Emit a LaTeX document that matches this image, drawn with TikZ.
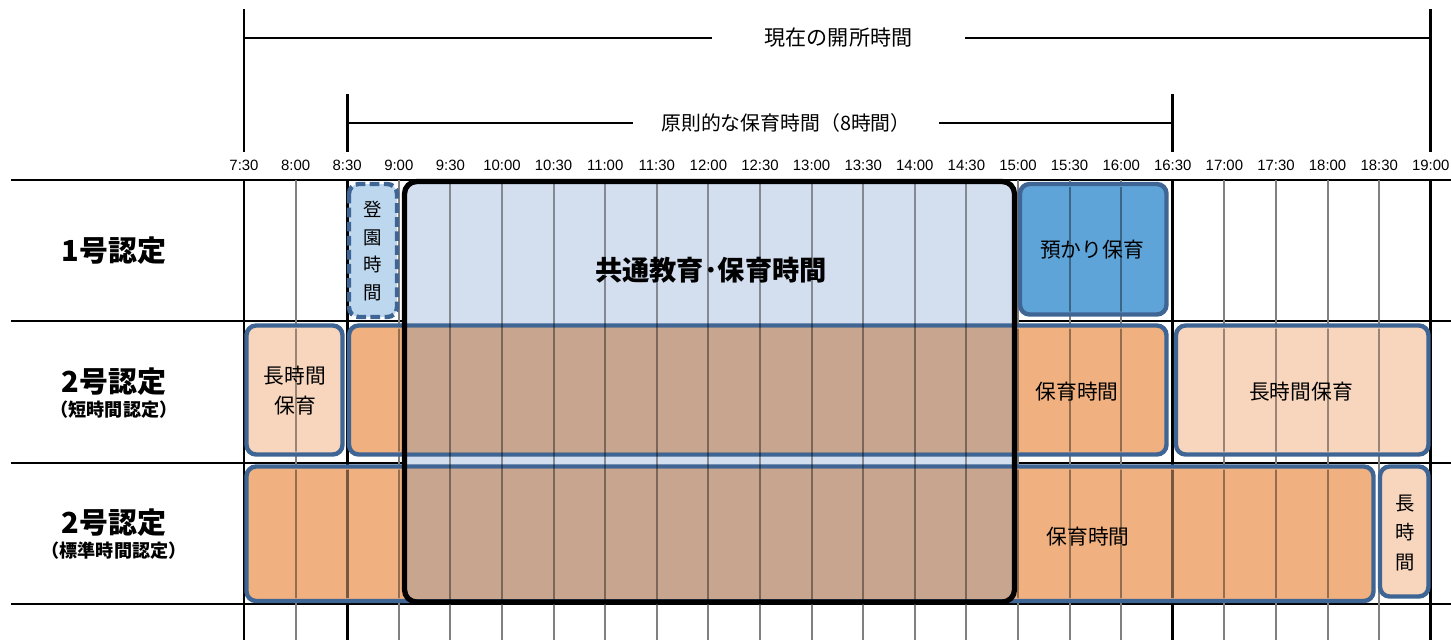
\documentclass[tikz,border=0pt]{standalone}
\usepackage{fontspec}
\setmainfont{Noto Sans CJK JP}
\newfontfamily\timefont{Liberation Sans}
\definecolor{boxline}{HTML}{3F6594}
\definecolor{commonfill}{HTML}{D3DEEE}
\definecolor{entryfill}{HTML}{BDD7EE}
\definecolor{azukarifill}{HTML}{5FA4D8}
\definecolor{hoikufill}{HTML}{F0B07F}
\definecolor{longfill}{HTML}{F7D6BD}
\definecolor{overlapfill}{HTML}{C7A58F}
\tikzset{
  rowline/.style={line width=1.2pt},
  slotline/.style={draw=black!50,line width=1.1pt},
  mainline/.style={line width=1.6pt},
  bracket/.style={line width=1.3pt},
  shade/.style={draw=black,draw opacity=0.38,line width=1.1pt},
  box/.style={draw=boxline,line width=2.5pt,rounded corners=5.5pt},
  timelab/.style={font=\timefont\fontsize{8.5}{10}\selectfont,inner sep=0pt},
  toplab/.style={font=\fontsize{12}{14}\selectfont,inner ysep=0pt},
  rowlab/.style={font=\bfseries\fontsize{16.5}{20}\selectfont},
  sublab/.style={font=\bfseries\fontsize{10.3}{12}\selectfont},
  boxlab/.style={font=\fontsize{11.8}{17}\selectfont,align=center},
  stacklab/.style={font=\fontsize{10.5}{15.6}\selectfont,align=center},
}

\begin{document}
\begin{tikzpicture}[x=0.02cm,y=-0.02cm]
  \useasboundingbox (0,0) rectangle (1451,640);
  \foreach \y in {180,321,463,604}
    \draw[rowline] (11,\y) -- (1451,\y);
  \foreach \i in {1,3,4,...,17,19,20,21,22}
    \draw[slotline] (244+51.6*\i,180) -- (244+51.6*\i,640);
  \foreach \i in {0,2,18,23}
    \draw[mainline] (244+51.6*\i,180) -- (244+51.6*\i,640);
  \foreach \t [count=\i from 0] in {7:30,8:00,8:30,9:00,9:30,10:00,10:30,11:00,11:30,12:00,12:30,13:00,13:30,14:00,14:30,15:00,15:30,16:00,16:30,17:00,17:30,18:00,18:30,19:00}
    \node[timelab] (t\i) at (244+51.6*\i,165) {\t};

  \draw[mainline] (244,9) -- (244,152);
  \draw[mainline] (1430.8,9) -- (1430.8,152);
  \draw[mainline] (347.2,94) -- (347.2,152);
  \draw[mainline] (1172.8,94) -- (1172.8,152);
  \coordinate (open-l) at (244,38);
  \coordinate (open-r) at (1430.8,38);
  \node[toplab,inner xsep=30pt] (open) at (838.5,38) {現在の開所時間};
  \draw[bracket] (open-l) -- (open) -- (open-r);
  \coordinate (basic-l) at (347.2,123);
  \coordinate (basic-r) at (1172.8,123);
  \node[toplab,font=\fontsize{11.3}{14}\selectfont,inner xsep=16pt] (basic) at (786,123) {原則的な保育時間（8時間）};
  \draw[bracket] (basic-l) -- (basic) -- (basic-r);

  \fill[commonfill,rounded corners=6pt] (404.5,181.5) rectangle (1014.5,602);
  \draw[box,fill=entryfill,dash pattern=on 5.5pt off 2.5pt] (349,184) rectangle (397,317);
  \draw[box,fill=azukarifill] (1020,184) rectangle (1166.5,314.5);
  \draw[box,fill=longfill] (246.5,325.5) rectangle (342.5,454.5);
  \draw[box,fill=hoikufill] (349,325.5) rectangle (1166.5,454.5);
  \draw[box,fill=longfill] (1176,325.5) rectangle (1428.5,454.5);
  \draw[box,fill=hoikufill] (246.5,466.5) rectangle (1373.5,601);
  \draw[box,fill=longfill] (1380,466.5) rectangle (1428.5,596.5);
  \begin{scope}
    \clip (404.5,181.5) rectangle (1014.5,602);
    \fill[overlapfill] (351.5,328) rectangle (1164,452) (249,469) rectangle (1371,598.5);
  \end{scope}
  \begin{scope}
    \clip (352,187) rectangle (394,314) (407,184) rectangle (1012,599.5)
      (1023,187) rectangle (1163.5,311.5) (249.5,328.5) rectangle (339.5,451.5)
      (352,328.5) rectangle (1163.5,451.5) (1179,328.5) rectangle (1425.5,451.5)
      (249.5,469.5) rectangle (1370.5,598) (1383,469.5) rectangle (1425.5,593.5);
    \foreach \i in {1,3,4,...,17,19,20,21,22}
      \draw[shade] (244+51.6*\i,180) -- (244+51.6*\i,640);
    \foreach \i in {2,18}
      \draw[shade,draw opacity=0.5,line width=1.6pt] (244+51.6*\i,180) -- (244+51.6*\i,640);
  \end{scope}
  \draw[line width=3pt,rounded corners=7pt] (404.5,181.5) rectangle (1014.5,602);

  \node[rowlab] (row1) at (114,251) {1号認定};
  \node[rowlab] (row2) at (114,382) {2号認定};
  \node[sublab] (row2s) at (114,410) {（短時間認定）};
  \node[rowlab] (row3) at (114,523) {2号認定};
  \node[sublab] (row3s) at (114,551) {（標準時間認定）};

  \node[stacklab] (entry) at (373,251) {登\\園\\時\\間};
  \node[font=\bfseries\fontsize{15.5}{18}\selectfont] (common) at (711,270) {共通教育･保育時間};
  \node[boxlab] (azukari) at (1092,250) {預かり保育};
  \node[boxlab] (long2a) at (295,391) {長時間\\保育};
  \node[boxlab] (hoiku2) at (1077,392) {保育時間};
  \node[boxlab] (long2b) at (1301,392) {長時間保育};
  \node[boxlab] (hoiku3) at (1088,537) {保育時間};
  \node[stacklab,font=\fontsize{11}{16.7}\selectfont] (long3) at (1405,533) {長\\時\\間};
\end{tikzpicture}
\end{document}
